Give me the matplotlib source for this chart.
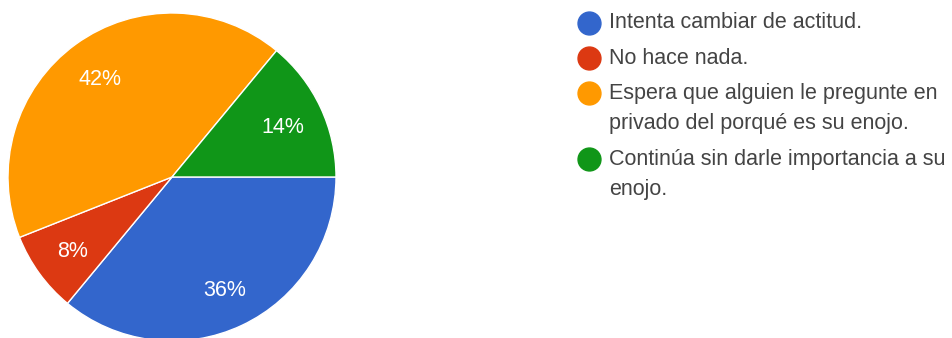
import matplotlib.pyplot as plt
from matplotlib.lines import Line2D

plt.rcParams['font.family'] = ['Liberation Sans', 'DejaVu Sans']

# respuestas (%)
labels = [
    'Intenta cambiar de actitud.',
    'No hace nada.',
    'Espera que alguien le pregunte en\nprivado del porqué es su enojo.',
    'Continúa sin darle importancia a su\nenojo.',
]
values = [36, 8, 42, 14]
colors = ['#3366CC', '#DC3912', '#FF9900', '#109618']

W, H = 952, 338
fig = plt.figure(figsize=(W / 100, H / 100), dpi=100)

# pastel: centro (172, 177) px, radio 164 px
cx, cy, r = 172, 177, 164
ax = fig.add_axes([(cx - r) / W, (H - cy - r) / H, 2 * r / W, 2 * r / H])
wedges, texts, autotexts = ax.pie(
    values, colors=colors, startangle=0, counterclock=False,
    autopct=lambda p: f'{p:.0f}%', pctdistance=0.75,
    wedgeprops=dict(edgecolor='white', linewidth=1),
    textprops=dict(color='white', fontsize=15.5))
for t in autotexts:
    t.set_va('center_baseline')
ax.set_xlim(-1, 1)
ax.set_ylim(-1, 1)
ax.set_aspect('equal')

# leyenda a mano
y = 23
for lab, col in zip(labels, colors):
    fig.add_artist(Line2D([589 / W], [1 - y / H], marker='o', markersize=16.5,
                          color=col, linestyle='none', transform=fig.transFigure))
    lines = lab.split('\n')
    for i, ln in enumerate(lines):
        fig.text(609 / W, 1 - (y + i * 31) / H, ln, fontsize=15.5,
                 color='#444444', va='center', ha='left')
    y += (len(lines) - 1) * 31 + 35

fig.savefig('out.png', dpi=100, facecolor='white')
